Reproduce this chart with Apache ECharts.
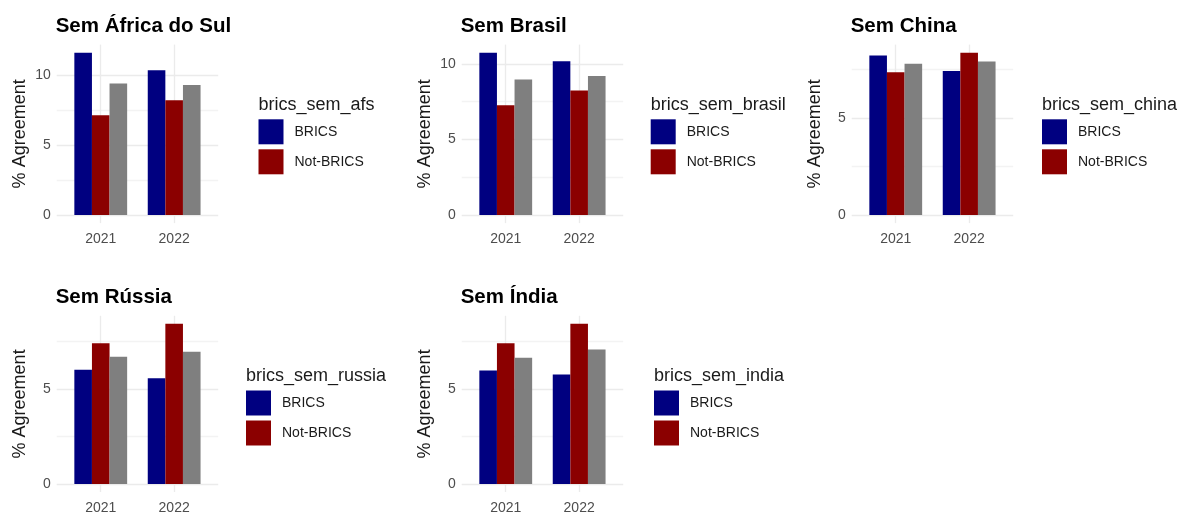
<!DOCTYPE html>
<html>
<head>
<meta charset="utf-8">
<script src="https://cdn.jsdelivr.net/npm/echarts@6/dist/echarts.min.js"></script>
<style>
  html, body { margin: 0; padding: 0; background: #fff; }
  #main { width: 1179px; height: 515px; }
</style>
</head>
<body>
<div id="main"></div>
<script>
// dados
const years = ['2021', '2022'];
const panelTitles = ['Sem África do Sul', 'Sem Brasil', 'Sem China', 'Sem Rússia', 'Sem Índia'];
const legendTitles = ['brics_sem_afs', 'brics_sem_brasil', 'brics_sem_china', 'brics_sem_russia', 'brics_sem_india'];
const groups = ['BRICS', 'Not-BRICS', 'NA'];
const bricsValues = [[11.63, 10.38], [10.74, 10.17], [8.21, 7.41], [6.01, 5.56], [5.96, 5.75]];
const notBricsValues = [[7.14, 8.22], [7.26, 8.24], [7.34, 8.35], [7.40, 8.42], [7.40, 8.42]];
const naValues = [[9.42, 9.32], [8.97, 9.20], [7.78, 7.90], [6.69, 6.95], [6.64, 7.07]];
const majorTicks = [0, 5, 10];
const minorTicks = [2.5, 7.5];

const colors = ['#000080', '#8B0000', '#7F7F7F'];
const font = '"Liberation Sans", Arial, sans-serif';

// posição de cada painel
const layout = [
    { left: 56.7, top: 44.6, legendLeft: 258.5 },
    { left: 461.7, top: 44.6, legendLeft: 650.7 },
    { left: 851.7, top: 44.6, legendLeft: 1042 },
    { left: 56.7, top: 315.8, legendLeft: 246 },
    { left: 461.7, top: 315.8, legendLeft: 654 }
];
const plotW = 161.5;
const plotH = 178.5;

const chart = echarts.init(document.getElementById('main'));

let grids = [], xAxes = [], yAxes = [], series = [], titles = [], legends = [];

panelTitles.forEach((t, i) => {
    const L = layout[i];
    const vals = [bricsValues[i], notBricsValues[i], naValues[i]];
    const m = Math.max(...vals.flat());
    const yMin = -0.05 * m, yMax = 1.05 * m;
    const ticks = [...majorTicks, ...minorTicks].filter(v => v <= yMax).sort((a, b) => a - b);
    const labels = majorTicks.filter(v => v <= yMax);

    grids.push({ left: L.left, top: L.top, width: plotW, height: plotH, containLabel: false });

    xAxes.push({
        gridIndex: i, type: 'value', min: 0.4, max: 2.6,
        axisLine: { show: false },
        axisTick: { show: false, customValues: [1, 2] },
        axisLabel: {
            customValues: [1, 2], margin: 9,
            color: '#4d4d4d', fontSize: 14, fontFamily: font,
            formatter: v => years[Math.round(v) - 1]
        },
        splitLine: { show: true, lineStyle: { color: '#ebebeb', width: 1.3 } }
    });

    yAxes.push({
        gridIndex: i, type: 'value', min: yMin, max: yMax,
        axisLine: { show: false },
        axisTick: { show: false, customValues: ticks },
        axisLabel: {
            customValues: labels, margin: 6,
            color: '#4d4d4d', fontSize: 14, fontFamily: font,
            formatter: v => String(v)
        },
        splitLine: { show: true, lineStyle: { color: ['#ebebeb', '#f3f3f3'], width: 1.3 } },
        name: '% Agreement', nameLocation: 'middle', nameGap: 28,
        nameTextStyle: { fontSize: 18, color: '#1a1a1a', fontFamily: font }
    });

    groups.forEach((g, k) => {
        series.push({
            type: 'bar', name: g,
            xAxisIndex: i, yAxisIndex: i,
            data: vals[k].map((v, j) => [j + 1, v]),
            barWidth: 17.6, barGap: '0%',
            itemStyle: { color: colors[k] },
            emphasis: { disabled: true }
        });
    });

    const rowTop = L.top < 100 ? 0 : 271.2;
    titles.push({
        text: t, left: L.left - 1, top: rowTop + 15.5, padding: 0,
        textStyle: { fontSize: 20.5, fontWeight: 'bold', color: '#000', fontFamily: font }
    });
    titles.push({
        text: legendTitles[i], left: L.legendLeft, top: rowTop + 96, padding: 0,
        textStyle: { fontSize: 18, fontWeight: 'normal', color: '#1a1a1a', fontFamily: font }
    });

    legends.push({
        data: ['BRICS', 'Not-BRICS'],
        orient: 'vertical', left: L.legendLeft, top: rowTop + 119.3, padding: 0,
        icon: 'rect', itemWidth: 25, itemHeight: 25, itemGap: 5,
        selectedMode: false,
        textStyle: { fontSize: 14, color: '#1a1a1a', fontFamily: font, padding: [0, 0, 0, 6] }
    });
});

chart.setOption({
    animation: false,
    backgroundColor: '#fff',
    title: titles,
    legend: legends,
    grid: grids,
    xAxis: xAxes,
    yAxis: yAxes,
    series: series
});
</script>
</body>
</html>
